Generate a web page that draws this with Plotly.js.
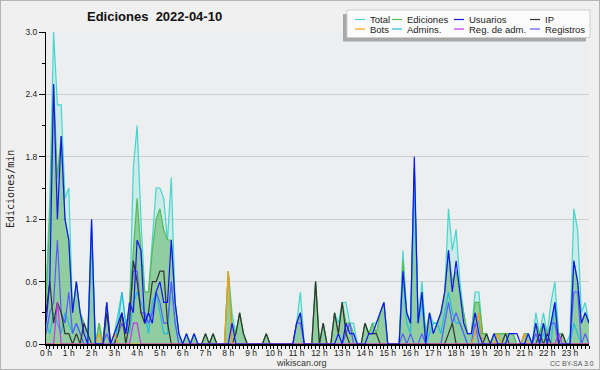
<!DOCTYPE html>
<html><head><meta charset="utf-8">
<script src="https://cdn.plot.ly/plotly-3.0.1.min.js"></script>
<style>
html,body{margin:0;padding:0;background:#fff;}
#chart{width:598px;height:368px;border:1px solid #b4b4b4;}
</style></head><body><div id="chart"></div>
<script>
// 10-minute bins over 2022-04-10, values in edits per minute
const hourLabels = ["0 h","1 h","2 h","3 h","4 h","5 h","6 h","7 h","8 h","9 h","10 h","11 h","12 h","13 h","14 h","15 h","16 h","17 h","18 h","19 h","20 h","21 h","22 h","23 h"];

const total = [
 0.5,1.4,3.0,2.3,2.3,1.4,1.5,0.3,0.6,0.3,0.2,0.1,
 1.2,0,0.2,0,0.4,0,0.1,0.3,0.5,0.2,0.3,1.7,
 2.1,1.2,0.5,0.5,1.0,1.5,1.5,1.4,1.0,1.6,0.4,0.1,
 0,0.1,0,0.1,0,0,0.1,0,0.1,0,0,0,
 0.7,0.3,0.1,0.3,0.1,0,0,0,0,0,0.1,0,
 0,0,0,0,0,0,0.2,0.5,0,0,0,0.6,
 0,0.2,0,0,0.3,0.2,0.4,0.4,0.2,0.2,0,0,
 0.2,0.1,0.2,0.2,0.3,0.4,0,0,0,0,0.9,0.3,
 0.2,1.7,0.2,0.6,0.1,0.3,0.2,0.2,0.3,0.5,1.3,0.9,
 1.1,0.6,0.3,0.1,0.1,0.5,0.5,0.1,0.1,0,0.1,0.1,
 0.1,0.1,0.1,0.1,0,0,0.1,0.1,0,0.3,0.1,0.3,
 0.1,0.4,0.6,0.1,0.1,0,0.1,1.3,1.1,0.3,0.4,0.2
];
const ediciones = [
 0.4,1.2,2.5,1.6,2.0,1.2,1.0,0.3,0.6,0.3,0.2,0.1,
 1.0,0,0.2,0,0.4,0,0.1,0.2,0.3,0.1,0.4,0.9,
 1.4,0.9,0.5,0.5,0.9,1.2,1.3,1.1,1.0,1.0,0.4,0.1,
 0,0.1,0,0.1,0,0,0.1,0,0.1,0,0,0,
 0.7,0.2,0.1,0.3,0.1,0,0,0,0,0,0.1,0,
 0,0,0,0,0,0,0.2,0.3,0,0,0,0.6,
 0,0.2,0,0,0.3,0.1,0.4,0.2,0.2,0.1,0,0,
 0.2,0.1,0.2,0.1,0.3,0.4,0,0,0,0,0.8,0.3,
 0.2,1.7,0.2,0.5,0.1,0.3,0.1,0.2,0.3,0.5,0.9,0.6,
 0.7,0.5,0.3,0.1,0.1,0.4,0.4,0.1,0.1,0,0.1,0.1,
 0.1,0.1,0.1,0.1,0,0,0.1,0.1,0,0.2,0.1,0.2,
 0.1,0.2,0.4,0.1,0.1,0,0,0.8,0.6,0.2,0.3,0.2
];
const usuarios = [
 0.2,0.6,2.5,1.2,2.0,1.2,1.0,0.3,0.6,0.3,0.1,0,
 1.2,0,0,0,0.4,0,0.1,0.2,0.3,0.1,0.4,0.3,
 1.0,0.9,0.2,0.3,0.2,0.5,0.6,0.4,0.4,1.0,0.4,0.1,
 0,0.1,0,0.1,0,0,0,0,0,0,0,0,
 0,0.2,0,0,0,0,0,0,0,0,0,0,
 0,0,0,0,0,0,0.2,0.3,0,0,0,0,
 0,0,0,0,0,0.1,0,0.2,0.1,0.1,0,0,
 0,0.1,0.1,0.2,0.3,0.4,0,0,0,0,0.7,0.3,
 0.2,1.8,0.2,0.5,0,0.3,0.1,0.2,0.3,0.5,0.9,0.5,
 0.8,0.5,0.2,0.1,0.1,0.3,0.1,0,0,0,0.1,0,
 0,0,0.1,0.1,0.1,0,0,0.1,0,0.2,0,0.2,
 0,0.2,0.4,0,0,0,0,0.8,0.6,0.2,0.3,0.2
];
const ip = [
 0.3,0.6,0.2,0.4,0.3,0.1,0.1,0,0.1,0,0.2,0.1,
 0,0,0,0,0.3,0,0,0.1,0.3,0,0.2,0.8,
 0.6,0.3,0.2,0.3,0.6,0.6,0.7,0.7,0.2,0,0,0,
 0,0,0,0,0,0,0.1,0,0.1,0,0,0,
 0,0,0.1,0.3,0.1,0,0,0,0,0,0.1,0,
 0,0,0,0,0,0,0,0,0,0,0,0.6,
 0,0.2,0,0,0.3,0.1,0.4,0.1,0,0,0,0,
 0.2,0.1,0.1,0.1,0,0,0,0,0,0,0,0,
 0,0,0,0,0,0,0,0,0,0,0.1,0.2,
 0,0,0,0,0,0,0,0,0.1,0,0,0,
 0,0.1,0,0,0,0,0,0,0,0,0.1,0,
 0.1,0,0,0,0.1,0,0,0,0,0,0,0
];
const bots = [
 0,0,0,0,0,0,0,0,0,0,0,0,
 0,0,0.1,0,0,0,0.1,0,0,0,0,0,
 0,0,0,0,0,0,0,0,0,0,0,0,
 0,0,0,0,0,0,0,0,0,0,0,0,
 0.7,0,0,0,0,0,0,0,0,0,0,0,
 0,0,0,0,0,0,0,0,0,0,0,0,
 0,0,0,0,0,0,0,0,0,0,0,0,
 0,0,0,0,0,0,0,0,0,0,0,0,
 0,0,0,0,0,0,0,0,0,0,0,0,
 0,0,0,0,0,0.1,0.3,0,0,0,0,0.1,
 0,0,0,0,0,0,0.1,0,0,0,0,0,
 0,0,0,0,0,0,0,0,0,0,0,0
];
const admins = [
 0.2,0.1,0.3,0.2,0.1,0.3,0.2,0.1,0.2,0.1,0,0,
 1.1,0,0,0,0,0,0,0.2,0.5,0.2,0.1,0.4,
 0.5,0.4,0.3,0.1,0.4,0.5,0.3,0.1,0.1,0.6,0.2,0,
 0,0,0,0,0,0,0,0,0,0,0,0,
 0,0,0,0,0,0,0,0,0,0,0,0,
 0,0,0,0,0,0,0,0,0,0,0,0,
 0,0,0,0,0,0,0,0,0,0,0,0,
 0,0,0,0,0,0,0,0,0,0,0.7,0.2,
 0.1,1.6,0.2,0.4,0,0.1,0.2,0.2,0.1,0.3,0.5,0.3,
 0.2,0.2,0.1,0,0,0.3,0.2,0,0,0,0,0,
 0,0,0,0,0,0,0,0.1,0,0,0,0.1,
 0,0,0.4,0,0,0,0,0.2,0.1,0,0,0
];
const regAdm = [
 0,0,0,0.4,0,0,0,0,0,0,0,0,
 0,0,0,0,0,0,0,0,0,0,0,0.2,
 0.2,0,0,0,0,0,0,0,0,0,0,0,
 0,0,0,0,0,0,0,0,0,0,0,0,
 0,0,0,0,0,0,0,0,0,0,0,0,
 0,0,0,0,0,0,0,0,0,0,0,0,
 0,0,0,0,0,0,0,0,0,0,0,0,
 0,0,0,0,0,0,0,0,0,0,0,0,
 0,0,0,0,0,0,0,0,0,0,0,0,
 0,0,0,0,0,0,0,0,0,0,0,0,
 0,0,0,0,0,0,0,0,0,0,0,0,
 0,0,0,0.1,0,0,0,0,0,0,0,0
];
const registros = [
 0.1,0.3,0.4,1.0,0.3,0.2,0.5,0.1,0.2,0.1,0,0,
 0,0,0,0,0.1,0,0,0.1,0.2,0.1,0.3,0.7,
 0.7,0.3,0.3,0.2,0.3,0.5,0.4,0.2,0.2,0.6,0.2,0,
 0,0,0,0,0,0,0,0,0,0,0,0,
 0,0,0,0,0,0,0,0,0,0,0,0,
 0,0,0,0,0,0,0.2,0.2,0,0,0,0,
 0,0,0,0,0,0,0,0.1,0.2,0,0,0,
 0,0,0,0,0,0,0,0,0,0,0.1,0,
 0.1,0,0,0.1,0,0,0,0,0,0.2,0.4,0.2,
 0.3,0.2,0.1,0,0,0.2,0,0,0,0,0,0,
 0,0,0,0,0,0,0,0,0,0.1,0,0,
 0,0.2,0.2,0,0,0,0,0.5,0.5,0,0.1,0
];

const seriesNames  = ["Total","Ediciones","Usuarios","IP","Bots","Admins.","Reg. de adm.","Registros"];
const seriesValues = [total, ediciones, usuarios, ip, bots, admins, regAdm, registros];
const seriesColors = ["#44d6cc","#55bb55","#1414f0","#333333","#ff9a10","#22bde0","#cc33ee","#5a5aff"];
const seriesFill   = ["rgba(150,230,220,0.38)","rgba(70,170,70,0.45)",null,null,null,null,null,null];
const drawOrder    = [0,1,5,7,3,4,6,2];

const xHours = total.map((_, i) => i / 6);

const traces = drawOrder.map(k => {
  const t = {
    type: "scatter", mode: "lines", name: seriesNames[k],
    x: xHours, y: seriesValues[k],
    line: {color: seriesColors[k], width: 1.2},
    hoverinfo: "skip", showlegend: false
  };
  if (seriesFill[k]) { t.fill = "tozeroy"; t.fillcolor = seriesFill[k]; }
  return t;
});

// page pixel -> paper coordinates (plot area spans page x 46..589, y 32..344)
const PX = x => (x - 46) / 543;
const PY = y => (344 - y) / 312;

const shapes = [
  {type:"rect", xref:"paper", yref:"paper", x0:PX(343), x1:PX(586), y0:PY(14), y1:PY(41.5),
   fillcolor:"#a8a8a8", line:{width:0}, layer:"above"},
  {type:"rect", xref:"paper", yref:"paper", x0:PX(347), x1:PX(590), y0:PY(10), y1:PY(37.5),
   fillcolor:"#fbfbfb", line:{color:"#cfcfcf", width:1}, layer:"above"}
];
const annotations = [];
const colLine = [355, 392, 454, 530];
const rowY = [19.5, 29];
seriesNames.forEach((name, k) => {
  const c = k % 4, r = Math.floor(k / 4);
  shapes.push({type:"line", xref:"paper", yref:"paper",
    x0:PX(colLine[c]), x1:PX(colLine[c] + 10), y0:PY(rowY[r]), y1:PY(rowY[r]),
    line:{color:seriesColors[k], width:1.2}, layer:"above"});
  annotations.push({xref:"paper", yref:"paper", x:PX(colLine[c] + 13), y:PY(rowY[r]),
    xanchor:"left", yanchor:"middle", showarrow:false, text:name,
    font:{family:"Liberation Sans, Arial, sans-serif", size:9.5, color:"#222"}});
});
annotations.push(
  {xref:"paper", yref:"paper", x:PX(154), y:PY(17), xanchor:"center", yanchor:"middle", showarrow:false,
   text:"<b>Ediciones\u00a0 2022-04-10</b>", font:{family:"Liberation Sans, Arial, sans-serif", size:13, color:"#111"}},
  {xref:"paper", yref:"paper", x:PX(10), y:PY(189), xanchor:"center", yanchor:"middle", showarrow:false,
   textangle:-90, text:"Ediciones/min", font:{family:"DejaVu Sans Mono, monospace", size:10, color:"#222"}},
  {xref:"paper", yref:"paper", x:PX(301), y:PY(362.5), xanchor:"center", yanchor:"middle", showarrow:false,
   text:"wikiscan.org", font:{family:"Liberation Sans, Arial, sans-serif", size:9, color:"#333"}},
  {xref:"paper", yref:"paper", x:PX(572), y:PY(363), xanchor:"center", yanchor:"middle", showarrow:false,
   text:"CC BY-SA 3.0", font:{family:"Liberation Sans, Arial, sans-serif", size:7, color:"#555"}}
);

const layout = {
  width: 598, height: 368,
  margin: {l:45, r:10, t:31, b:25, pad:0},
  paper_bgcolor: "#f0f0f0", plot_bgcolor: "#edeef0",
  showlegend: false, hovermode: false,
  xaxis: {
    range: [0, 143/6], tickmode: "array",
    tickvals: hourLabels.map((_, h) => h), ticktext: hourLabels,
    ticks: "outside", ticklen: 3, tickcolor: "#000", tickwidth: 1,
    ticklabelstandoff: -3,
    minor: {tick0: 0, dtick: 1/6, ticks: "outside", ticklen: 3, tickcolor: "#000", tickwidth: 1, showgrid: false},
    showline: true, linecolor: "#000", linewidth: 1.5, showgrid: false, zeroline: false,
    tickfont: {family:"Liberation Sans, Arial, sans-serif", size: 8.5, color:"#222"}
  },
  yaxis: {
    range: [0, 3.0], tick0: 0, dtick: 0.6, tickformat: ".1f",
    ticks: "outside", ticklen: 6, tickcolor: "#000",
    minor: {tick0: 0, dtick: 0.3, ticks: "outside", ticklen: 3, tickcolor: "#000", showgrid: false},
    showline: true, linecolor: "#000", linewidth: 1,
    showgrid: true, gridcolor: "#cdcdcd", gridwidth: 1, zeroline: false,
    tickfont: {family:"Liberation Sans, Arial, sans-serif", size: 8.5, color:"#222"}
  },
  shapes: shapes, annotations: annotations
};

Plotly.newPlot("chart", traces, layout, {displayModeBar: false, staticPlot: true});
</script></body></html>
